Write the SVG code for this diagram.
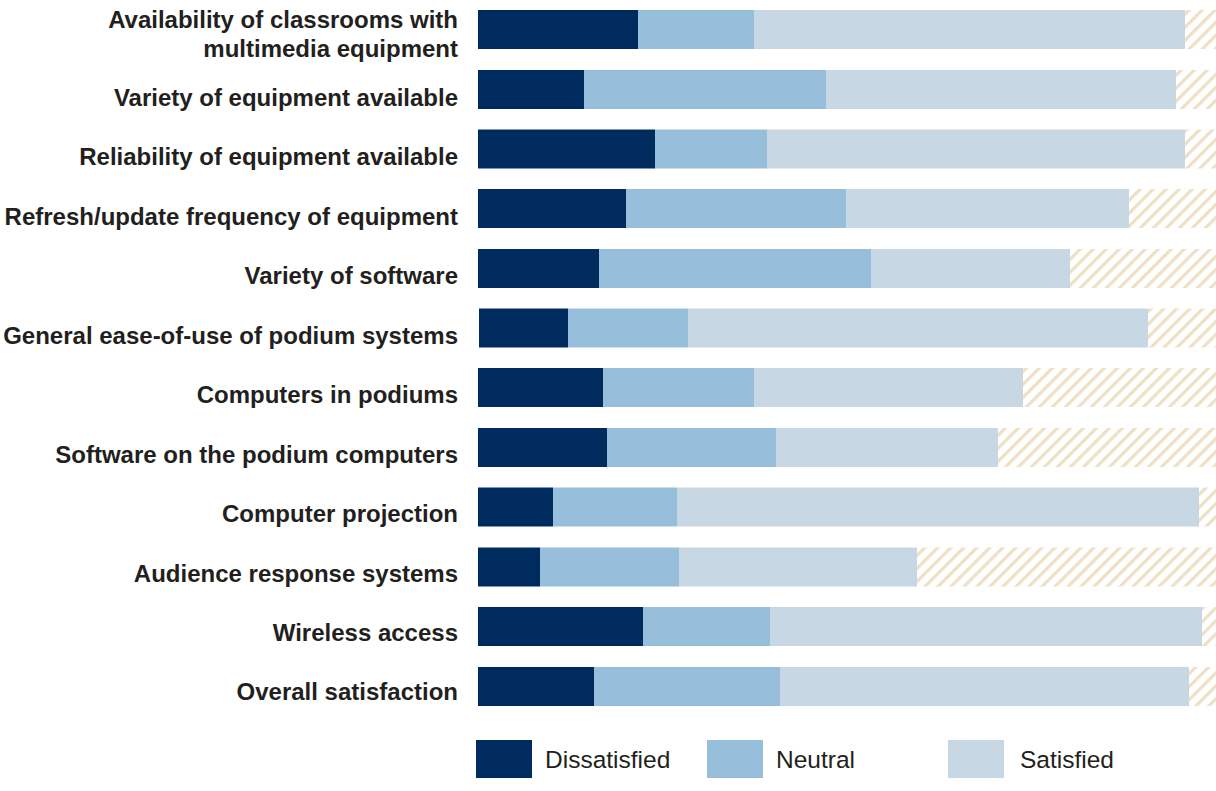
<svg xmlns="http://www.w3.org/2000/svg" width="1216" height="791" viewBox="0 0 1216 791">
<defs>
<pattern id="hatch" patternUnits="userSpaceOnUse" width="9.2" height="10" patternTransform="rotate(45)">
<rect x="0" y="0" width="3.2" height="10" fill="#efdfc5"/>
</pattern>
<style>
.lbl{font-family:"Liberation Sans",Arial,sans-serif;font-weight:bold;font-size:24px;fill:#231f20;text-anchor:end}
.leg{font-family:"Liberation Sans",Arial,sans-serif;font-size:24.5px;fill:#231f20}
.d{fill:#002b5e}
.n{fill:#97bfdb}
.s{fill:#c8d7e4}
.h{fill:url(#hatch)}
</style>
</defs>
<rect width="1216" height="791" fill="#ffffff"/>
<g id="row1"><text class="lbl" x="458" y="28">Availability of classrooms with</text><text class="lbl" x="458" y="57">multimedia equipment</text>
<rect class="d" x="478" y="10" width="160" height="39"/><rect class="n" x="638" y="10" width="116" height="39"/><rect class="s" x="754" y="10" width="431" height="39"/><rect class="h" x="1185" y="10" width="31" height="39"/></g>
<g id="row2"><text class="lbl" x="458" y="106">Variety of equipment available</text>
<rect class="d" x="478" y="70" width="106" height="39"/><rect class="n" x="584" y="70" width="242" height="39"/><rect class="s" x="826" y="70" width="350" height="39"/><rect class="h" x="1176" y="70" width="40" height="39"/></g>
<g id="row3"><text class="lbl" x="458" y="165">Reliability of equipment available</text>
<rect class="d" x="478" y="129.5" width="177" height="39"/><rect class="n" x="655" y="129.5" width="112" height="39"/><rect class="s" x="767" y="129.5" width="418" height="39"/><rect class="h" x="1185" y="129.5" width="31" height="39"/></g>
<g id="row4"><text class="lbl" x="458" y="225">Refresh/update frequency of equipment</text>
<rect class="d" x="478" y="189" width="148" height="39"/><rect class="n" x="626" y="189" width="220" height="39"/><rect class="s" x="846" y="189" width="283" height="39"/><rect class="h" x="1129" y="189" width="87" height="39"/></g>
<g id="row5"><text class="lbl" x="458" y="284">Variety of software</text>
<rect class="d" x="478" y="249" width="121" height="39"/><rect class="n" x="599" y="249" width="272" height="39"/><rect class="s" x="871" y="249" width="199" height="39"/><rect class="h" x="1070" y="249" width="146" height="39"/></g>
<g id="row6"><text class="lbl" x="458" y="344">General ease-of-use of podium systems</text>
<rect class="d" x="479" y="308.5" width="89" height="39"/><rect class="n" x="568" y="308.5" width="120" height="39"/><rect class="s" x="688" y="308.5" width="460" height="39"/><rect class="h" x="1148" y="308.5" width="68" height="39"/></g>
<g id="row7"><text class="lbl" x="458" y="403">Computers in podiums</text>
<rect class="d" x="478" y="368" width="125" height="39"/><rect class="n" x="603" y="368" width="151" height="39"/><rect class="s" x="754" y="368" width="269" height="39"/><rect class="h" x="1023" y="368" width="193" height="39"/></g>
<g id="row8"><text class="lbl" x="458" y="463">Software on the podium computers</text>
<rect class="d" x="478" y="428" width="129" height="39"/><rect class="n" x="607" y="428" width="169" height="39"/><rect class="s" x="776" y="428" width="222" height="39"/><rect class="h" x="998" y="428" width="218" height="39"/></g>
<g id="row9"><text class="lbl" x="458" y="522">Computer projection</text>
<rect class="d" x="478" y="487.5" width="75" height="39"/><rect class="n" x="553" y="487.5" width="124" height="39"/><rect class="s" x="677" y="487.5" width="522" height="39"/><rect class="h" x="1199" y="487.5" width="17" height="39"/></g>
<g id="row10"><text class="lbl" x="458" y="582">Audience response systems</text>
<rect class="d" x="478" y="547.5" width="62" height="39"/><rect class="n" x="540" y="547.5" width="139" height="39"/><rect class="s" x="679" y="547.5" width="238" height="39"/><rect class="h" x="917" y="547.5" width="299" height="39"/></g>
<g id="row11"><text class="lbl" x="458" y="641">Wireless access</text>
<rect class="d" x="478" y="607" width="165" height="39"/><rect class="n" x="643" y="607" width="127" height="39"/><rect class="s" x="770" y="607" width="432" height="39"/><rect class="h" x="1202" y="607" width="14" height="39"/></g>
<g id="row12"><text class="lbl" x="458" y="700">Overall satisfaction</text>
<rect class="d" x="478" y="667" width="116" height="39"/><rect class="n" x="594" y="667" width="186" height="39"/><rect class="s" x="780" y="667" width="409" height="39"/><rect class="h" x="1189" y="667" width="27" height="39"/></g>
<g id="legend">
<rect class="d" x="476" y="740" width="56" height="38"/><text class="leg" x="545" y="768">Dissatisfied</text>
<rect class="n" x="707" y="740" width="56" height="38"/><text class="leg" x="776" y="768">Neutral</text>
<rect class="s" x="948" y="740" width="56" height="38"/><text class="leg" x="1020" y="768">Satisfied</text>
</g>
</svg>
